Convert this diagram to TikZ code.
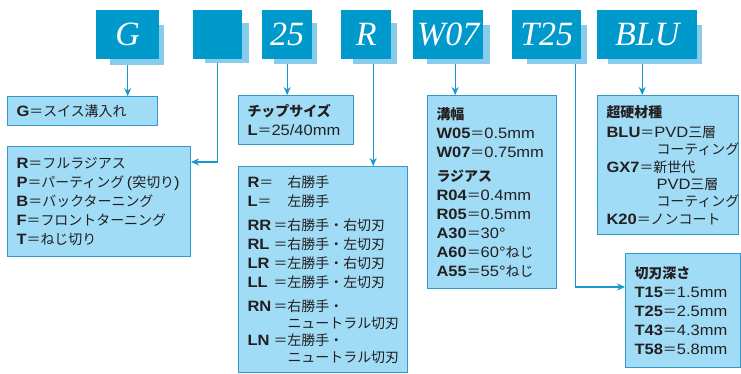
\documentclass[tikz,border=0pt]{standalone}
\usepackage{fontspec}
\setmainfont{Liberation Sans}[FakeStretch=1.1]
\newfontfamily\jpfont{Noto Sans CJK JP}[Scale=0.93]
\newfontfamily\codefont{Liberation Serif}
\usepackage{tikz}
\usetikzlibrary{arrows.meta,positioning}
% Japanese characters switch to the CJK family
\XeTeXinterchartokenstate=1
\newXeTeXintercharclass\jpclass
\makeatletter
\newcommand{\setjprange}[2]{%
  \count@=#1\relax
  \loop\XeTeXcharclass\count@=\jpclass
  \ifnum\count@<#2\relax\advance\count@ by 1 \repeat}
\setjprange{"3000}{"30FF}
\setjprange{"4E00}{"9FFF}
\setjprange{"FF00}{"FFEF}
\XeTeXinterchartoks 0 \jpclass = {\jpfont}
\XeTeXinterchartoks \e@alloc@intercharclass@top \jpclass = {\jpfont}
\XeTeXinterchartoks \jpclass 0 = {\rmfamily}
\XeTeXinterchartoks \jpclass \e@alloc@intercharclass@top = {\rmfamily}
\makeatother
\definecolor{topcolor}{RGB}{0,153,204}
\definecolor{shadecolor}{RGB}{136,204,236}
\definecolor{descfill}{RGB}{160,220,246}
\definecolor{descline}{RGB}{51,153,204}
\definecolor{arrowcolor}{RGB}{26,150,210}
\definecolor{textcolor}{RGB}{35,31,32}
\tikzset{
  topbox/.style={fill=topcolor, anchor=north west, inner sep=0pt, text=white,
    font=\codefont\itshape\fontsize{34}{34}\selectfont},
  shadebox/.style={fill=shadecolor, anchor=north west, inner sep=0pt},
  descbox/.style={draw=descline, line width=1pt, fill=descfill, anchor=north west,
    inner xsep=9pt, inner ysep=0pt, align=left, text=textcolor,
    font=\fontsize{15}{19}\selectfont},
  link/.style={draw=arrowcolor, line width=1.2pt, -{Stealth[length=8pt,width=7pt]}}
}
\newcommand{\handcode}[1]{\makebox[40pt][l]{\makebox[26pt][l]{\textbf{#1}}＝}}
\newcommand{\shortcode}[1]{\makebox[40pt][l]{\textbf{#1}＝}}

\begin{document}
\begin{tikzpicture}[x=1pt, y=-1pt]
    \useasboundingbox (0,0) rectangle (741,374);

    % Shadows of the code boxes
    \node[shadebox, minimum width=54pt, minimum height=40pt] (gS) at (110,25) {};
    \node[shadebox, minimum width=44pt, minimum height=40pt] (bS) at (205,23) {};
    \node[shadebox, minimum width=43pt, minimum height=41pt] (sS) at (274,23) {};
    \node[shadebox, minimum width=44pt, minimum height=41pt] (rS) at (353,23) {};
    \node[shadebox, minimum width=63pt, minimum height=39pt] (wS) at (427,25) {};
    \node[shadebox, minimum width=60pt, minimum height=39pt] (tS) at (527,25) {};
    \node[shadebox, minimum width=94pt, minimum height=39pt] (mS) at (608,25) {};

    % Code boxes
    \node[topbox, minimum width=63pt, minimum height=49pt] (g) at (96,10) {G};
    \node[topbox, minimum width=49pt, minimum height=49pt] (b) at (193,10) {};
    \node[topbox, minimum width=50pt, minimum height=49pt] (s) at (262,10) {25};
    \node[topbox, minimum width=50pt, minimum height=49pt] (r) at (341,10) {R};
    \node[topbox, minimum width=70pt, minimum height=49pt] (w) at (413,10) {W07};
    \node[topbox, minimum width=69pt, minimum height=49pt] (t) at (512,10) {T25};
    \node[topbox, minimum width=100pt, minimum height=49pt] (m) at (597,10) {BLU};

    % Descriptions
    \node[descbox, text width=132pt, minimum height=29pt] (gd) at (7,96)
        {\textbf{G}＝スイス溝入れ};
    \node[descbox, text width=165pt, minimum height=110pt] (ld) at (7,146)
        {\textbf{R}＝フルラジアス\\
         \textbf{P}＝パーティング\,(突切り)\\
         \textbf{B}＝バックターニング\\
         \textbf{F}＝フロントターニング\\
         \textbf{T}＝ねじ切り};
    \node[descbox, text width=97pt, minimum height=49pt] (cd) at (238,95)
        {\textbf{チップサイズ}\\
         \textbf{L}＝25/40mm};
    \node[descbox, text width=151pt, minimum height=206pt] (hd) at (238,166)
        {\shortcode{R}右勝手\\
         \shortcode{L}左勝手\\[5pt]
         \handcode{RR}右勝手・右切刃\\
         \handcode{RL}右勝手・左切刃\\
         \handcode{LR}左勝手・右切刃\\
         \handcode{LL}左勝手・左切刃\\[5pt]
         \handcode{RN}右勝手・\\[-2pt]
         \hspace*{40pt}ニュートラル切刃\\[-2pt]
         \handcode{LN}左勝手・\\[-2pt]
         \hspace*{40pt}ニュートラル切刃};
    \node[descbox, text width=111pt, minimum height=193pt] (wd) at (427,95)
        {\textbf{溝幅}\\
         \textbf{W05}＝0.5mm\\
         \textbf{W07}＝0.75mm\\[5pt]
         \textbf{ラジアス}\\
         \textbf{R04}＝0.4mm\\
         \textbf{R05}＝0.5mm\\
         \textbf{A30}＝30°\\
         \textbf{A60}＝60°ねじ\\
         \textbf{A55}＝55°ねじ};
    \node[descbox, text width=123pt, minimum height=139pt] (md) at (597,95)
        {\textbf{超硬材種}\\[1pt]
         \textbf{BLU}＝PVD三層\\[-2pt]
         \hspace*{50pt}コーティング\\[-1pt]
         \textbf{GX7}＝新世代\\[-2pt]
         \hspace*{50pt}PVD三層\\[-2pt]
         \hspace*{50pt}コーティング\\[-1pt]
         \textbf{K20}＝ノンコート};
    \node[descbox, text width=97pt, minimum height=114pt] (td) at (625,253)
        {\textbf{切刃深さ}\\
         \textbf{T15}＝1.5mm\\
         \textbf{T25}＝2.5mm\\
         \textbf{T43}＝4.3mm\\
         \textbf{T58}＝5.8mm};

    % Links
    \draw[link] (g.south |- gS.south) -- (g.south |- gd.north);
    \draw[link] (b.south |- bS.south) |- ([yshift=-16pt]ld.north east);
    \draw[link] (s.south |- sS.south) -- (s.south |- cd.north);
    \draw[link] ([xshift=7pt]r.south |- rS.south) -- ([xshift=7pt]r.south |- hd.north);
    \draw[link] ([xshift=7pt]w.south |- wS.south) -- ([xshift=7pt]w.south |- wd.north);
    \draw[link] ([xshift=29pt]t.south |- tS.south) |- ([yshift=-34pt]td.north west);
    \draw[link] ([xshift=-5pt]m.south |- mS.south) -- ([xshift=-5pt]m.south |- md.north);
\end{tikzpicture}
\end{document}
